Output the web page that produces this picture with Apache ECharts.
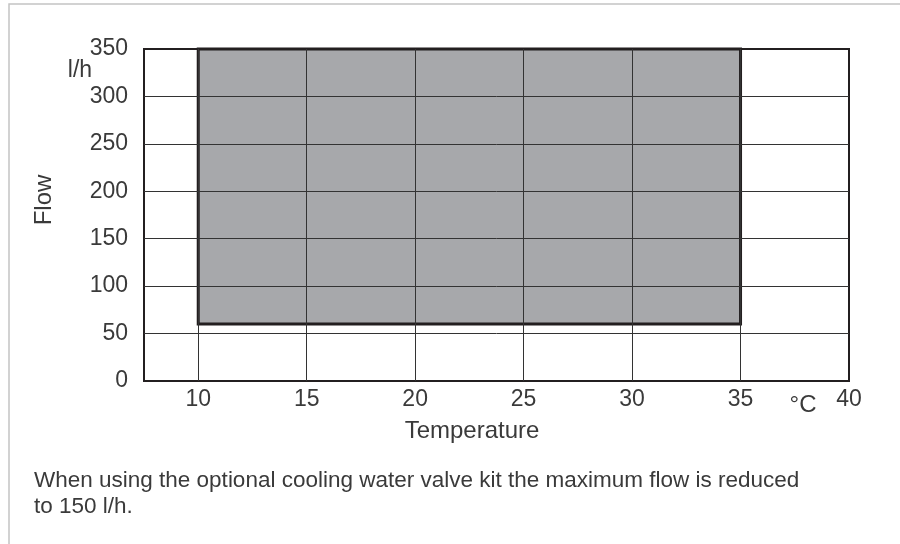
<!DOCTYPE html>
<html>
<head>
<meta charset="utf-8">
<script src="https://cdn.jsdelivr.net/npm/echarts@6/dist/echarts.min.js"></script>
<style>
html,body{margin:0;padding:0;background:#fff;}
#chart{width:900px;height:544px;}
</style>
</head>
<body>
<div id="chart"></div>
<script>
// Data
var xTickLabels = [10, 15, 20, 25, 30, 35, 40];
var yTickLabels = [0, 50, 100, 150, 200, 250, 300, 350];
var verticalGrid = [10, 15, 20, 25, 30, 35];
var horizontalGrid = [50, 100, 150, 200, 250, 300];
var tempRange = [10, 35];     // operating temperature range (°C)
var flowRange = [60, 350];    // operating flow range (l/h)
var xMin = 7.5, xMax = 40;
var yMin = 0, yMax = 350;
var captionLines = [
  'When using the optional cooling water valve kit the maximum flow is reduced',
  'to 150 l/h.'
];

var textColor = '#3a3a3a';
var lineColor = '#231f20';
var fontFam = '"Liberation Sans", Arial, Helvetica, sans-serif';

var chart = echarts.init(document.getElementById('chart'), null, {renderer: 'canvas'});

var gridLines = verticalGrid.map(function (v) { return {xAxis: v}; })
  .concat(horizontalGrid.map(function (v) { return {yAxis: v}; }));

var option = {
  backgroundColor: '#fff',
  animation: false,
  grid: {
    left: 144, right: 51, top: 49, bottom: 163,
    show: true, borderColor: lineColor, borderWidth: 2, backgroundColor: 'transparent'
  },
  xAxis: {
    type: 'value', min: xMin, max: xMax, interval: 2.5,
    axisLine: {show: true, lineStyle: {color: lineColor, width: 2}},
    axisTick: {show: false},
    splitLine: {show: false},
    axisLabel: {
      color: textColor, fontSize: 23, fontFamily: fontFam, margin: 7,
      formatter: function (v) { return xTickLabels.indexOf(v) >= 0 ? String(v) : ''; }
    }
  },
  yAxis: {
    type: 'value', min: yMin, max: yMax, interval: 50,
    axisLine: {show: true, lineStyle: {color: lineColor, width: 2}},
    axisTick: {show: false},
    splitLine: {show: false},
    axisLabel: {
      color: textColor, fontSize: 23, fontFamily: fontFam, margin: 16,
      formatter: function (v) { return yTickLabels.indexOf(v) >= 0 ? String(v) : ''; }
    }
  },
  series: [{
    type: 'line',
    data: [],
    silent: true,
    markArea: {
      silent: true,
      itemStyle: {color: '#a7a8ab', borderColor: lineColor, borderWidth: 3},
      label: {show: false},
      data: [[{xAxis: tempRange[0], yAxis: flowRange[0]}, {xAxis: tempRange[1], yAxis: flowRange[1]}]]
    },
    markLine: {
      silent: true,
      symbol: ['none', 'none'],
      label: {show: false},
      lineStyle: {color: '#333', width: 1, type: 'solid'},
      data: gridLines
    }
  }],
  graphic: [
    {type: 'rect', shape: {x: 9, y: 4, width: 900, height: 560}, style: {fill: 'none', stroke: '#c4c4c4', lineWidth: 1.5}, z: -10},
    {type: 'text', x: 80, y: 71, style: {text: 'l/h', fill: textColor, font: '23px ' + fontFam, textAlign: 'center', textVerticalAlign: 'middle'}},
    {type: 'text', x: 44, y: 200, rotation: Math.PI / 2, style: {text: 'Flow', fill: textColor, font: '24px ' + fontFam, textAlign: 'center', textVerticalAlign: 'middle'}},
    {type: 'text', x: 803, y: 405, style: {text: '°C', fill: textColor, font: '24px ' + fontFam, textAlign: 'center', textVerticalAlign: 'middle'}},
    {type: 'text', x: 472, y: 431, style: {text: 'Temperature', fill: textColor, font: '24px ' + fontFam, textAlign: 'center', textVerticalAlign: 'middle'}},
    {type: 'text', x: 34, y: 481, style: {text: captionLines[0], fill: textColor, font: '22.5px ' + fontFam, textAlign: 'left', textVerticalAlign: 'middle'}},
    {type: 'text', x: 34, y: 507, style: {text: captionLines[1], fill: textColor, font: '22.5px ' + fontFam, textAlign: 'left', textVerticalAlign: 'middle'}}
  ]
};
chart.setOption(option);
</script>
</body>
</html>
